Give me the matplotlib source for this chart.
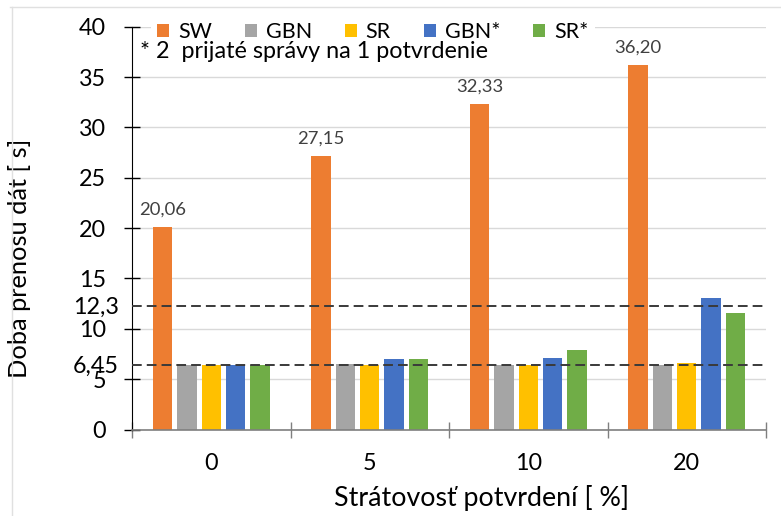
import matplotlib
matplotlib.use('Agg')
import matplotlib.pyplot as plt
from matplotlib.patches import Patch
from matplotlib.lines import Line2D
import numpy as np

# ---- data ----
categories = ['0', '5', '10', '20']
series_names = ['SW', 'GBN', 'SR', 'GBN*', 'SR*']
sw = [20.06, 27.15, 32.33, 36.20]
gbn = [6.45, 6.55, 6.45, 6.45]
sr = [6.45, 6.45, 6.37, 6.62]
gbn_star = [6.45, 6.97, 7.06, 13.03]
sr_star = [6.40, 7.00, 7.86, 11.60]
sw_labels = ['20,06', '27,15', '32,33', '36,20']
ref_values = [6.45, 12.3]
ref_labels = ['6,45', '12,3']
y_ticks = [0, 5, 10, 15, 20, 25, 30, 35, 40]
note_text = '* 2  prijaté správy na 1 potvrdenie'
x_title = 'Strátovosť potvrdení [ %]'
y_title = 'Doba prenosu dát [ s]'

colors = ['#ED7D31', '#A5A5A5', '#FFC000', '#4472C4', '#70AD47']
series = [sw, gbn, sr, gbn_star, sr_star]

plt.rcParams['font.family'] = ['Lato', 'DejaVu Sans']

W, H = 781, 516
fig = plt.figure(figsize=(W / 100, H / 100), dpi=100)
ax_l, ax_r, ax_t, ax_b = 132, 766, 26.7, 429.5
ax = fig.add_axes([ax_l / W, 1 - ax_b / H, (ax_r - ax_l) / W, (ax_b - ax_t) / H])

x = np.arange(len(categories))
pitch = 0.154
bw = 0.122
for i, (vals, c, name) in enumerate(zip(series, colors, series_names)):
    ax.bar(x + (i - 2) * pitch, vals, width=bw, color=c, label=name, zorder=2)

for xi, v, lab in zip(x, sw, sw_labels):
    ax.annotate(lab, (xi - 2 * pitch, v), xytext=(0, 7), textcoords='offset points',
                ha='center', va='bottom', fontsize=13.3, color='#404040', zorder=4)

for rv in ref_values:
    ax.axhline(rv, color='#3a3a3a', lw=1.4, ls=(0, (5, 2.6)), zorder=3)

ax.set_xlim(-0.5, len(categories) - 0.5)
ax.set_ylim(0, 40)

ax.set_yticks(y_ticks)
ax.set_yticklabels([str(t) for t in y_ticks])
ax.set_yticks(ref_values, minor=True)
ax.set_yticklabels(ref_labels, minor=True)
ax.tick_params(axis='y', which='major', direction='inout', length=12.2, width=1,
               color='#000000', pad=12.6, labelsize=16.8)
ax.tick_params(axis='y', which='minor', length=0, pad=9.5, labelsize=16.8)

ax.set_xticks(np.arange(len(categories) + 1) - 0.5)
ax.set_xticklabels([''] * (len(categories) + 1))
ax.set_xticks(x, minor=True)
ax.set_xticklabels(categories, minor=True)
ax.tick_params(axis='x', which='major', direction='inout', length=12, width=1,
               color='#7f7f7f')
ax.tick_params(axis='x', which='minor', length=0, pad=17, labelsize=16.8)

ax.grid(axis='y', which='major', color='#d9d9d9', lw=1, zorder=0)
ax.set_axisbelow(True)
for s in ['top', 'right']:
    ax.spines[s].set_visible(False)
ax.spines['left'].set_color('#000000')
ax.spines['bottom'].set_color('#7f7f7f')
ax.spines['bottom'].set_linewidth(1.2)

ax.set_ylabel(y_title, fontsize=18.3, va='center')
ax.yaxis.set_label_coords((20 - ax_l) / (ax_r - ax_l), (ax_b - 258) / (ax_b - ax_t))
ax.set_xlabel(x_title, fontsize=19.3, va='center')
ax.xaxis.set_label_coords((482 - ax_l) / (ax_r - ax_l), -(498 - ax_b) / (ax_b - ax_t))

handles = [Patch(facecolor=c, edgecolor='none', label=n) for c, n in zip(colors, series_names)]
leg = ax.legend(handles=handles, ncol=5, loc='center left',
                bbox_to_anchor=(151 / W, 1 - 32 / H), bbox_transform=fig.transFigure,
                frameon=True, facecolor='white', edgecolor='none', framealpha=1,
                fontsize=15.5, handlelength=0.55, handleheight=0.55, handletextpad=0.4,
                columnspacing=1.55, borderpad=0.3, borderaxespad=0)
leg.set_zorder(5)
fig.text(140 / W, 1 - 51 / H, note_text, fontsize=16.8, va='center', ha='left', zorder=6)

# chart area border (top and left edges visible)
fig.add_artist(Line2D([10 / W, 1], [1 - 7 / H, 1 - 7 / H], color='#e0e0e0', lw=1,
                      transform=fig.transFigure))
fig.add_artist(Line2D([12 / W, 12 / W], [0, 1 - 7 / H], color='#e0e0e0', lw=1,
                      transform=fig.transFigure))

fig.savefig('out.png', dpi=100, facecolor='white')
